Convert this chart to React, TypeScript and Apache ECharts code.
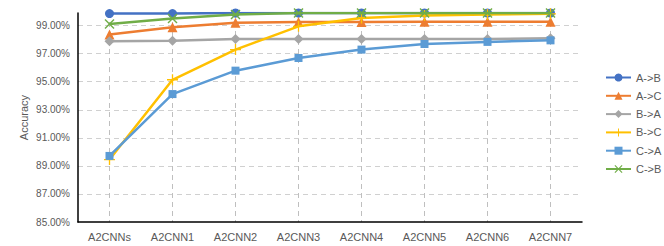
import React, { useEffect, useRef } from "react";
import * as echarts from "echarts";

const categories = ["A2CNNs", "A2CNN1", "A2CNN2", "A2CNN3", "A2CNN4", "A2CNN5", "A2CNN6", "A2CNN7"];
const seriesNames = ["A->B", "A->C", "B->A", "B->C", "C->A", "C->B"];
const aToB = [99.86, 99.86, 99.9, 99.9, 99.9, 99.9, 99.9, 99.9];
const aToC = [98.36, 98.88, 99.2, 99.25, 99.26, 99.27, 99.28, 99.28];
const bToA = [97.88, 97.93, 98.05, 98.05, 98.05, 98.05, 98.05, 98.1];
const bToC = [89.45, 95.14, 97.29, 98.95, 99.55, 99.72, 99.79, 99.84];
const cToA = [89.71, 94.12, 95.79, 96.69, 97.29, 97.69, 97.84, 97.95];
const cToB = [99.12, 99.5, 99.79, 99.9, 99.9, 99.9, 99.9, 99.9];
const yMin = 85;
const yMax = 99.9;
const yInterval = 2;

const colors = ["#4472C4", "#ED7D31", "#A5A5A5", "#FFC000", "#5B9BD5", "#70AD47"];
const plusPath = "path://M0,4.4 L10,4.4 L10,5.6 L0,5.6 Z M4.4,0 L5.6,0 L5.6,10 L4.4,10 Z";
const crossPath = "path://M0,1 L1,0 L5,4 L9,0 L10,1 L6,5 L10,9 L9,10 L5,6 L1,10 L0,9 L4,5 Z";
const symbols = ["circle", "triangle", "diamond", plusPath, "rect", crossPath];
const symbolSizes = [9, 10, 10, 11, 8, 10];

export default function App() {
  const ref = useRef<HTMLDivElement>(null);
  useEffect(() => {
    if (!ref.current) return;
    const chart = echarts.init(ref.current, undefined, { renderer: "svg" });
    const datasets = [aToB, aToC, bToA, bToC, cToA, cToB];
    const font = "Liberation Sans";
    chart.setOption({
      animation: false,
      backgroundColor: "#fff",
      textStyle: { fontFamily: font },
      grid: { left: 78, right: 82, top: 13, bottom: 24 },
      legend: {
        orient: "vertical",
        left: 600,
        top: 67,
        itemWidth: 25,
        itemHeight: 10,
        itemGap: 7.3,
        textStyle: { color: "#595959", fontSize: 11, fontFamily: font },
        data: seriesNames,
      },
      xAxis: {
        type: "category",
        data: categories,
        boundaryGap: true,
        axisLine: { lineStyle: { color: "#000", width: 1.5 } },
        axisTick: { show: false },
        axisLabel: { color: "#595959", fontSize: 11, margin: 9, fontFamily: font },
        splitLine: {
          show: true,
          alignWithLabel: true,
          lineStyle: { color: "#BFBFBF", type: [5, 4], width: 1 },
        },
      },
      yAxis: {
        type: "value",
        min: yMin,
        max: yMax,
        interval: yInterval,
        name: "Accuracy",
        nameLocation: "middle",
        nameRotate: 90,
        nameGap: 54,
        nameMoveOverlap: false,
        nameTextStyle: { color: "#595959", fontSize: 11, fontFamily: font, verticalAlign: "middle" },
        axisLine: { show: true, lineStyle: { color: "#000", width: 1.5 } },
        axisTick: { show: false },
        axisLabel: {
          color: "#595959",
          fontSize: 10,
          margin: 8,
          showMaxLabel: false,
          fontFamily: font,
          formatter: (v: number) => v.toFixed(2) + "%",
        },
        splitLine: {
          show: true,
          showMaxLine: false,
          showMinLine: false,
          lineStyle: { color: "#D0D0D0", type: [5, 4], width: 1 },
        },
      },
      series: seriesNames.map((name, i) => ({
        name,
        type: "line",
        data: datasets[i],
        symbol: symbols[i],
        symbolSize: symbolSizes[i],
        showAllSymbol: true,
        itemStyle: { color: colors[i] },
        lineStyle: { color: colors[i], width: 2.5 },
        z: 2 + i,
      })),
    });
    return () => chart.dispose();
  }, []);
  return (
    <div
      ref={ref}
      style={{ position: "fixed", left: 0, top: 0, width: 664, height: 246 }}
    />
  );
}
